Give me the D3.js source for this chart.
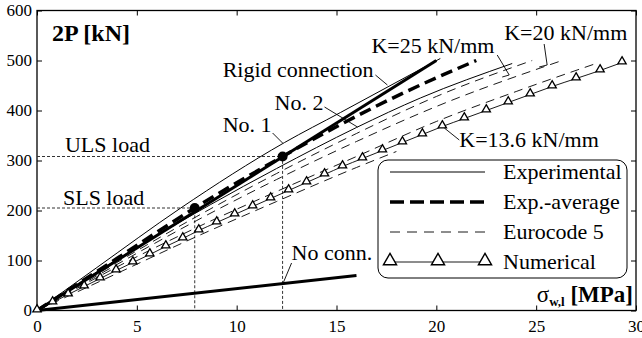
<!DOCTYPE html>
<html>
<head>
<meta charset="utf-8">
<script src="https://cdn.jsdelivr.net/npm/d3@7"></script>
<style>
  body { margin: 0; background: #fff; }
  svg { display: block; font-family: "Liberation Serif", "Times New Roman", serif; }
</style>
</head>
<body>
<svg width="642" height="338"></svg>
<script>
// values: stress sigma_w,l [MPa] vs load 2P [kN]
const rigidSigma = [0, 20];
const rigidLoad = [0, 500];
const noConnSigma = [0, 16];
const noConnLoad = [0, 70];
const no1Sigma = [0, 3, 7.2, 12.4, 15.2, 20.2];
const no1Load = [0, 86, 205, 336, 396, 504];
const no2Sigma = [0, 4, 8.7, 12, 16, 19.2, 23.8];
const no2Load = [0, 102, 212, 284, 366, 425, 494];
const avgSigma = [0, 4, 7.9, 12.3, 15.2, 18.5, 22];
const avgLoad = [0, 104, 205, 308, 372, 438, 500];
const ec25Sigma = [0, 4, 8, 12, 16, 20, 24.8];
const ec25Load = [0, 96, 188, 274, 354, 428, 500];
const ec20Sigma = [0, 4, 8, 12, 16, 20, 26.3];
const ec20Load = [0, 92, 180, 262, 338, 408, 500];
const ec13aSigma = [0, 4, 8, 12, 16, 20, 24, 28];
const ec13aLoad = [0, 87, 166, 238, 308, 378, 438, 494];
const ec13bSigma = [0, 4, 8, 12, 16, 18];
const ec13bLoad = [0, 74, 148, 218, 286, 318];
const numSigma = [0, 0.78, 1.56, 2.36, 3.16, 3.96, 4.8, 5.65, 6.45, 7.3, 8.1, 9.0, 9.9, 10.8, 11.7, 12.6,
  13.5, 14.4, 15.3, 16.3, 17.3, 18.3, 19.3, 20.3, 21.4, 22.5, 23.6, 24.7, 25.8, 27.0, 28.2, 29.3];
const numLoad = [0, 16, 32, 48, 64, 80, 96, 112, 128, 144, 160, 176, 192, 208, 224, 240,
  256, 272, 288, 304, 320, 336, 352, 368, 384, 400, 416, 432, 448, 464, 480, 496];
const slsPoint = [7.9, 205];
const ulsPoint = [12.3, 308];
const xTicks = [0, 5, 10, 15, 20, 25, 30];
const yTicks = [0, 100, 200, 300, 400, 500, 600];
const legendNames = ["Experimental", "Exp.-average", "Eurocode 5", "Numerical"];

const svg = d3.select("svg");
const x = d3.scaleLinear().domain([0, 30]).range([37, 636]);
const y = d3.scaleLinear().domain([0, 600]).range([310.5, 10.5]);

const zip = (a, b) => a.map((v, i) => [v, b[i]]);
const line = d3.line().x(d => x(d[0])).y(d => y(d[1])).curve(d3.curveMonotoneX);

// axes (ticks point inward)
svg.append("g").attr("transform", "translate(0,310.5)")
  .call(d3.axisBottom(x).tickValues(xTicks).tickSize(-5).tickPadding(9))
  .call(g => g.select(".domain").remove());
svg.append("g").attr("transform", "translate(37,0)")
  .call(d3.axisLeft(y).tickValues(yTicks).tickSize(-5).tickPadding(5))
  .call(g => g.select(".domain").remove());
svg.append("g").attr("transform", "translate(0,10.5)")
  .call(d3.axisTop(x).tickValues(xTicks).tickSize(-5).tickFormat(""))
  .call(g => g.select(".domain").remove());
svg.append("g").attr("transform", "translate(636,0)")
  .call(d3.axisRight(y).tickValues(yTicks).tickSize(-5).tickFormat(""))
  .call(g => g.select(".domain").remove());
svg.selectAll("g").attr("font-family", null);
svg.selectAll(".tick text").attr("font-size", 17).attr("fill", "#000");
svg.selectAll(".tick line").attr("stroke", "#000");
svg.append("rect").attr("x", 37).attr("y", 10.5).attr("width", 599).attr("height", 300)
  .attr("fill", "none").attr("stroke", "#000").attr("stroke-width", 1.3);

// SLS / ULS guide lines
[slsPoint, ulsPoint].forEach(p => {
  svg.append("path")
    .attr("d", `M${x(0)},${y(p[1])}H${x(p[0])}V${y(0)}`)
    .attr("fill", "none").attr("stroke", "#333").attr("stroke-dasharray", "3,2");
});

// Eurocode 5 dashed lines
[[ec25Sigma, ec25Load], [ec20Sigma, ec20Load], [ec13aSigma, ec13aLoad], [ec13bSigma, ec13bLoad]].forEach(s => {
  svg.append("path").attr("d", line(zip(s[0], s[1])))
    .attr("fill", "none").attr("stroke", "#000").attr("stroke-width", 0.9).attr("stroke-dasharray", "9,6");
});

// experimental thin lines
[[no1Sigma, no1Load], [no2Sigma, no2Load]].forEach(s => {
  svg.append("path").attr("d", line(zip(s[0], s[1])))
    .attr("fill", "none").attr("stroke", "#000").attr("stroke-width", 1);
});

// rigid and no connection
[[rigidSigma, rigidLoad], [noConnSigma, noConnLoad]].forEach(s => {
  svg.append("path").attr("d", line(zip(s[0], s[1])))
    .attr("fill", "none").attr("stroke", "#000").attr("stroke-width", 3);
});

// experimental average
svg.append("path").attr("d", line(zip(avgSigma, avgLoad)))
  .attr("fill", "none").attr("stroke", "#000").attr("stroke-width", 3.5).attr("stroke-dasharray", "12,6");

svg.selectAll(".pt").data([slsPoint, ulsPoint]).enter().append("circle")
  .attr("cx", d => x(d[0])).attr("cy", d => y(d[1])).attr("r", 5).attr("fill", "#000");

// numerical
svg.append("path").attr("d", line(zip(numSigma, numLoad)))
  .attr("fill", "none").attr("stroke", "#000").attr("stroke-width", 0.9);
const tri = d3.symbol().type(d3.symbolTriangle).size(30);
svg.selectAll(".num").data(zip(numSigma, numLoad)).enter().append("path")
  .attr("d", tri).attr("transform", d => `translate(${x(d[0])},${y(d[1]) - 1})`)
  .attr("fill", "#fff").attr("stroke", "#000").attr("stroke-width", 1.3);

// annotations
function label(txt, sx, ly, size, bold) {
  return svg.append("text").attr("x", x(sx)).attr("y", y(ly)).attr("font-size", size)
    .attr("font-weight", bold ? "bold" : "normal").text(txt);
}
function leader(pts) {
  svg.append("path").attr("d", d3.line()(pts.map(p => [x(p[0]), y(p[1])])))
    .attr("fill", "none").attr("stroke", "#000").attr("stroke-width", 0.9);
}
label("2P [kN]", 0.75, 539, 24, true);
label("ULS load", 1.4, 317, 22);
label("SLS load", 1.3, 211, 22);
label("Rigid connection", 9.3, 467, 22);
leader([[16.95, 471], [17.55, 451]]);
label("No. 2", 11.9, 401, 22);
leader([[14.4, 407], [16.05, 367]]);
label("No. 1", 9.3, 357, 22);
leader([[11.8, 355], [12.3, 335]]);
label("K=25 kN/mm", 16.75, 515, 22);
leader([[23.05, 511], [23.65, 471], [23.3, 467]]);
label("K=20 kN/mm", 23.4, 541, 22);
leader([[25.4, 533], [25.55, 491], [25.15, 487]]);
label("K=13.6 kN/mm", 21.15, 327, 22);
leader([[21.15, 341], [20.4, 365]]);
label("No conn.", 12.75, 101, 22);
leader([[12.75, 95], [12.35, 57]]);

// axis title inside the frame
const xt = svg.append("text").attr("x", 633).attr("y", 302).attr("text-anchor", "end").attr("font-size", 23);
xt.append("tspan").text("σ");
xt.append("tspan").attr("font-size", 13).attr("font-weight", "bold").attr("dy", 4).text("w,l");
xt.append("tspan").attr("font-weight", "bold").attr("dy", -4).text(" [MPa]");

// legend
const lg = svg.append("g").attr("transform", "translate(378,160)");
lg.append("rect").attr("width", 249).attr("height", 118).attr("rx", 10)
  .attr("fill", "#fff").attr("stroke", "#000").attr("stroke-width", 1);
const styles = [
  { w: 1, dash: null },
  { w: 3.5, dash: "14,6" },
  { w: 0.9, dash: "10,7" },
  { w: 0.9, dash: null }
];
legendNames.forEach((name, i) => {
  const yy = 12 + i * 30;
  lg.append("line").attr("x1", 12).attr("x2", 107).attr("y1", yy).attr("y2", yy)
    .attr("stroke", "#000").attr("stroke-width", styles[i].w)
    .attr("stroke-dasharray", styles[i].dash);
  lg.append("text").attr("x", 125).attr("y", yy + 7).attr("font-size", 22).text(name);
});
const bigTri = d3.symbol().type(d3.symbolTriangle).size(75);
lg.selectAll(".lt").data([12, 60, 107]).enter().append("path")
  .attr("d", bigTri).attr("transform", d => `translate(${d},${12 + 90 - 1})`)
  .attr("fill", "#fff").attr("stroke", "#000").attr("stroke-width", 1.4);
</script>
</body>
</html>
